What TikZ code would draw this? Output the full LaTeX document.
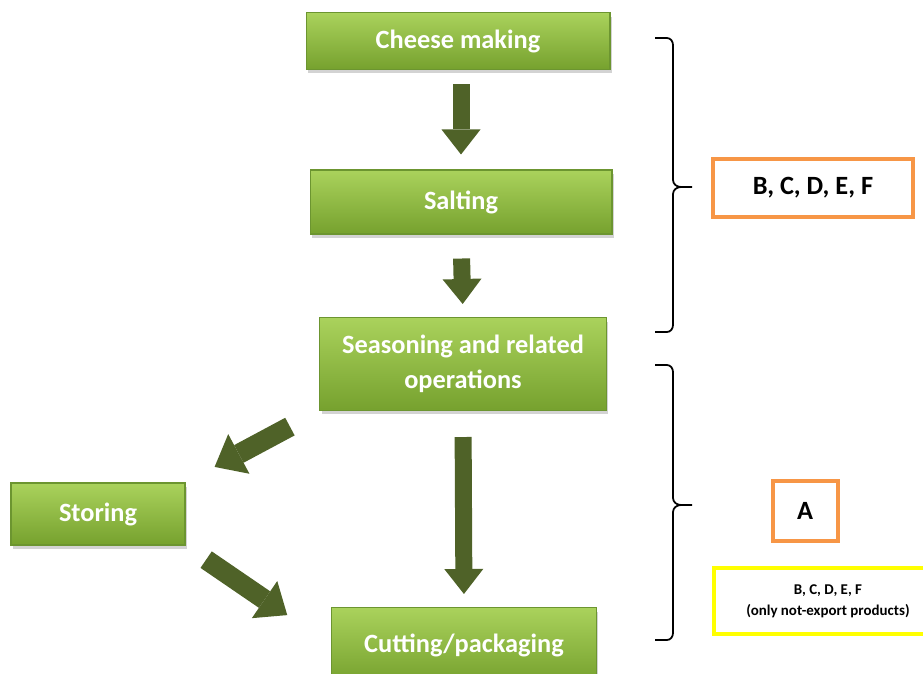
\documentclass[tikz,border=0pt]{standalone}
\usepackage{fontspec}
\setmainfont{Carlito}
\usetikzlibrary{arrows.meta,shadows}

\definecolor{boxtop}{HTML}{AAD25C}
\definecolor{boxbot}{HTML}{76A12E}
\definecolor{boxline}{HTML}{6C9530}
\definecolor{arrowgreen}{HTML}{4F6228}
\definecolor{codeorange}{HTML}{F79646}
\definecolor{codeyellow}{HTML}{FFFF00}

\begin{document}
\begin{tikzpicture}[x=0.02cm,y=-0.02cm,
		stepbox/.style={rectangle,draw=boxline,line width=0.6pt,top color=boxtop,bottom color=boxbot,
			text=white,font=\fontsize{15}{20}\selectfont\bfseries,align=center,
			drop shadow={opacity=0.35,shadow xshift=0.04cm,shadow yshift=-0.08cm}},
		flow/.style={draw=arrowgreen,line width=0.34cm,
			-{Triangle[width=0.78cm,length=0.5cm,line width=0pt,fill=arrowgreen]}},
		sideflow/.style={draw=arrowgreen,line width=0.4cm,
			-{Triangle[width=0.9cm,length=0.55cm,line width=0pt,fill=arrowgreen]}},
		codebox/.style={rectangle,draw=codeorange,line width=0.08cm,fill=white,
			font=\fontsize{15}{18}\selectfont\bfseries},
		bracket/.style={draw=black,line width=1pt}]
	\useasboundingbox (0,0) rectangle (923,673);
	% process steps
	\node[stepbox,minimum width=6.08cm,minimum height=1.14cm] (cheese) at (458,41) {Cheese making};
	\node[stepbox,minimum width=6.04cm,minimum height=1.28cm] (salt) at (461,202) {Salting};
	\node[stepbox,minimum width=5.74cm,minimum height=1.86cm] (season) at (463,364) {Seasoning and related\\operations};
	\node[stepbox,minimum width=3.48cm,minimum height=1.24cm] (store) at (98,514) {Storing};
	\node[stepbox,minimum width=5.3cm,minimum height=1.5cm] (cut) at (464,645) {Cutting/packaging};
	% flow arrows
	\draw[flow,shorten <=2.8mm,shorten >=3mm] (salt.north |- cheese.south) -- (salt.north);
	\draw[flow,shorten <=4.8mm,shorten >=2.6mm] (salt.south) -- (season.north);
	\draw[flow,shorten <=5.2mm,shorten >=2.6mm] (season.south) -- (cut.north);
	\draw[sideflow,shorten <=6.6mm,shorten >=6.6mm] (season.south west) -- (store.north east);
	\draw[sideflow,shorten <=5mm,shorten >=10.6mm] (store.south east) -- (cut.west);
	% braces
	\draw[bracket] (655,38) -- (667,38) to[out=0,in=90] (673,45) -- (673,180)
		to[out=-90,in=180] (681,187) -- (692,187);
	\draw[bracket] (681,187) to[out=180,in=90] (673,194) -- (673,325)
		to[out=-90,in=0] (667,332) -- (655,332);
	\draw[bracket] (655,365) -- (667,365) to[out=0,in=90] (673,372) -- (673,498)
		to[out=-90,in=180] (681,505) -- (692,505);
	\draw[bracket] (681,505) to[out=180,in=90] (673,512) -- (673,633)
		to[out=-90,in=0] (667,640) -- (655,640);
	% code boxes
	\node[codebox,minimum width=4cm,minimum height=1.18cm] (later) at (813,188) {B, C, D, E, F};
	\node[codebox,minimum width=1.3cm,minimum height=1.2cm] (first) at (805,511) {A};
	\node[codebox,draw=codeyellow,minimum width=4.56cm,minimum height=1.32cm,align=center,
		font=\fontsize{8.5}{12}\selectfont\bfseries] (local) at (828,601) {B, C, D, E, F\\(only not-export products)};
\end{tikzpicture}
\end{document}
